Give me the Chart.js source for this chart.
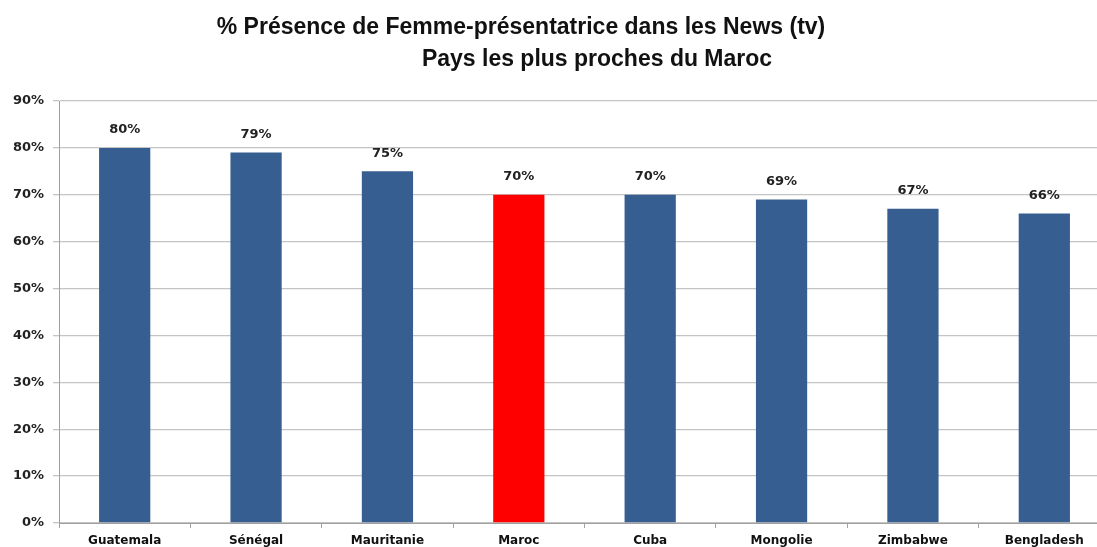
<!DOCTYPE html>
<html>
<head>
<meta charset="utf-8">
<script src="https://cdn.jsdelivr.net/npm/chart.js@4/dist/chart.umd.min.js"></script>
<style>
  html, body { margin: 0; padding: 0; background: #fff; overflow: hidden; }
  #wrap { position: relative; width: 1120px; height: 547px; }
</style>
</head>
<body>
<div id="wrap"><canvas id="c"></canvas></div>
<script>
const categories = ['Guatemala', 'Sénégal', 'Mauritanie', 'Maroc', 'Cuba', 'Mongolie', 'Zimbabwe', 'Bengladesh'];
const values = [80, 79, 75, 70, 70, 69, 67, 66];
const highlight = 'Maroc';
const titleLines = ['% Présence de Femme-présentatrice dans les News (tv)', 'Pays les plus proches du Maroc'];

const BLUE = '#365e90';
const RED = '#ff0000';
const LABEL_FONT = '"DejaVu Sans", Verdana, sans-serif';

// Two-line title, second line shifted right
const titlePlugin = {
  id: 'twoLineTitle',
  afterDraw(chart) {
    const ctx = chart.ctx;
    ctx.save();
    ctx.fillStyle = '#111';
    ctx.font = 'bold 23px "Liberation Sans", Arial, sans-serif';
    ctx.textAlign = 'center';
    ctx.textBaseline = 'middle';
    ctx.fillText(titleLines[0], 521, 28);
    ctx.fillText(titleLines[1], 597, 60);
    ctx.restore();
  }
};

// Value labels above each bar
const valueLabels = {
  id: 'valueLabels',
  afterDatasetsDraw(chart) {
    const ctx = chart.ctx;
    const meta = chart.getDatasetMeta(0);
    ctx.save();
    ctx.fillStyle = '#222';
    ctx.font = 'bold 13px ' + LABEL_FONT;
    ctx.textAlign = 'center';
    ctx.textBaseline = 'middle';
    meta.data.forEach((bar, i) => {
      ctx.fillText(values[i] + '%', bar.x, bar.y - 18);
    });
    ctx.restore();
  }
};

new Chart(document.getElementById('c'), {
  type: 'bar',
  data: {
    labels: categories,
    datasets: [{
      data: values,
      backgroundColor: categories.map(c => c === highlight ? RED : BLUE),
      barPercentage: 0.39,
      categoryPercentage: 1.0
    }]
  },
  options: {
    responsive: true,
    maintainAspectRatio: false,
    animation: false,
    layout: { padding: { top: 101, right: 10, left: 0, bottom: 0 } },
    plugins: { legend: { display: false }, tooltip: { enabled: false }, title: { display: false } },
    scales: {
      x: {
        grid: {
          display: true,
          drawOnChartArea: false,
          drawTicks: true,
          tickLength: 5,
          color: '#a0a0a0',
          offset: true
        },
        border: { display: true, color: '#a0a0a0' },
        ticks: {
          color: '#111',
          font: { family: LABEL_FONT, size: 12, weight: 'bold' },
          padding: 6,
          maxRotation: 0
        },
        afterFit(scale) { scale.height = 24; }
      },
      y: {
        min: 0,
        max: 90,
        ticks: {
          stepSize: 10,
          color: '#222',
          font: { family: LABEL_FONT, size: 13, weight: 'bold' },
          padding: 9,
          callback: v => v + '%'
        },
        grid: { color: '#c4c4c4', lineWidth: 1.3, tickLength: 6, drawTicks: true },
        border: { display: true, color: '#a0a0a0' },
        afterFit(scale) { scale.width = 59; }
      }
    }
  },
  plugins: [titlePlugin, valueLabels]
});
</script>
</body>
</html>
